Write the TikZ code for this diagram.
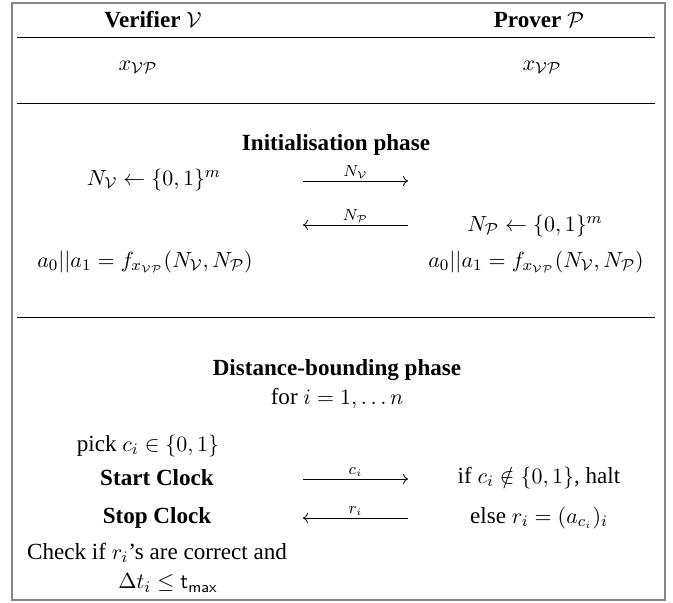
\documentclass[tikz,border=0pt]{standalone}
\usepackage{amsmath,amssymb}
\usepackage{fontspec}
\setmainfont{Liberation Serif}[Scale=1.05]
\usetikzlibrary{arrows.meta}
\begin{document}
\begin{tikzpicture}[x=0.5pt,y=-0.5pt,
  txt/.style={inner sep=0pt, anchor=center, font=\fontsize{11}{13}\selectfont},
  hd/.style={txt, font=\fontsize{11}{13}\selectfont\bfseries},
  lbl/.style={inner sep=0pt, anchor=south, font=\fontsize{11}{13}\selectfont},
  rule/.style={line width=0.5pt, black},
  frame/.style={line width=0.8pt, draw=black!47},
  msg/.style={line width=0.4pt, -{To[length=2.5pt,width=5pt]}}]
\useasboundingbox (0,0) rectangle (673,602);
\draw[frame] (12,3) rectangle (665,600);
% header
\node[hd] (ver) at (153,20) {Verifier $\mathcal{V}$};
\node[hd] (prv) at (539,20) {Prover $\mathcal{P}$};
\coordinate (l1a) at (17,37); \coordinate (l1b) at (655,37);
\draw[rule] (l1a) -- (l1b);
\node[txt] (xv) at (138,67) {$x_{\mathcal{V}\mathcal{P}}$};
\node[txt] (xp) at (542,67) {$x_{\mathcal{V}\mathcal{P}}$};
\coordinate (l2a) at (17,103); \coordinate (l2b) at (655,103);
\draw[rule] (l2a) -- (l2b);
% initialisation
\node[hd] (init) at (336,145) {Initialisation phase};
\node[txt] (nv) at (154,180) {$N_{\mathcal{V}} \leftarrow \{0,1\}^m$};
\coordinate (a1s) at (303,181); \coordinate (a1e) at (408,181);
\draw[msg] (a1s) -- node[lbl, above=1pt] (a1l) {$\scriptstyle N_{\mathcal{V}}$} (a1e);
\coordinate (a2s) at (408,225); \coordinate (a2e) at (303,225);
\draw[msg] (a2s) -- node[lbl, above=1pt] (a2l) {$\scriptstyle N_{\mathcal{P}}$} (a2e);
\node[txt] (np) at (535,226) {$N_{\mathcal{P}} \leftarrow \{0,1\}^m$};
\node[txt] (av) at (145,262) {$a_0||a_1 = f_{x_{\mathcal{V}\mathcal{P}}}(N_{\mathcal{V}},N_{\mathcal{P}})$};
\node[txt] (ap) at (536,262) {$a_0||a_1 = f_{x_{\mathcal{V}\mathcal{P}}}(N_{\mathcal{V}},N_{\mathcal{P}})$};
\coordinate (l3a) at (17,317); \coordinate (l3b) at (655,317);
\draw[rule] (l3a) -- (l3b);
% distance bounding
\node[hd] (db) at (337,370) {Distance-bounding phase};
\node[txt] (for) at (337,398) {for $i=1,\ldots n$};
\node[txt] (pick) at (148,446) {pick $c_i \in \{0,1\}$};
\node[hd] (start) at (157,478) {Start Clock};
\coordinate (a3s) at (303,479); \coordinate (a3e) at (408,479);
\draw[msg] (a3s) -- node[lbl, above=1pt] (a3l) {$\scriptstyle c_i$} (a3e);
\node[txt] (halt) at (539,478) {if $c_i \notin \{0,1\}$, halt};
\node[hd] (stop) at (157,518) {Stop Clock};
\coordinate (a4s) at (408,518); \coordinate (a4e) at (303,518);
\draw[msg] (a4s) -- node[lbl, above=1pt] (a4l) {$\scriptstyle r_i$} (a4e);
\node[txt] (else) at (539,518) {else $r_i = (a_{c_i})_i$};
\node[txt] (chk) at (157,553) {Check if $r_i$'s are correct and};
\node[txt] (dt) at (168,583) {$\Delta t_i \le \mathsf{t}_{\mathsf{max}}$};
\end{tikzpicture}
\end{document}
